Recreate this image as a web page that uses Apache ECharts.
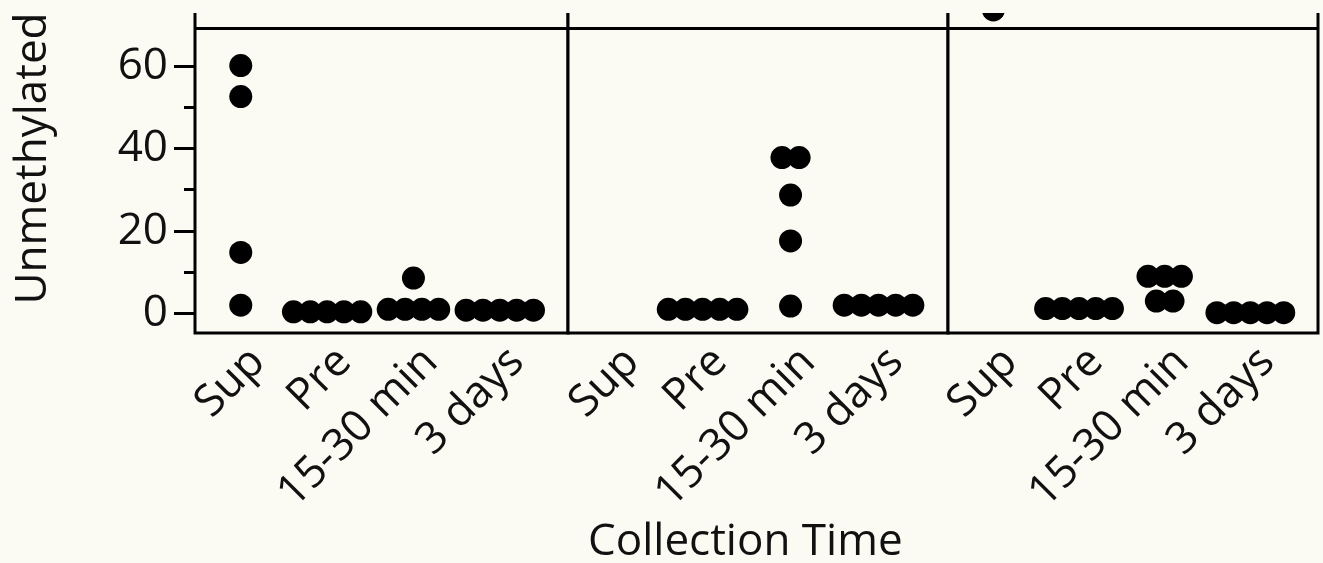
<!DOCTYPE html>
<html><head><meta charset="utf-8">
<script src="https://cdn.jsdelivr.net/npm/echarts@6/dist/echarts.min.js"></script>
<style>html,body{margin:0;padding:0;background:#fbfbf3;}#c{width:1323px;height:563px;}</style>
</head><body><div id="c"></div>
<script>
// ---- data ----
const categories = ['Sup', 'Pre', '15-30 min', '3 days'];
const panel1Sup = [60.1, 52.6, 14.8, 2.0];
const panel1Pre = [0.4, 0.4, 0.4, 0.4, 0.4];
const panel1Min = [8.6, 1.0, 1.0, 1.0, 1.0];
const panel1Days = [0.8, 0.8, 0.8, 0.8, 0.8];
const panel2Sup = [];
const panel2Pre = [1.0, 1.0, 1.0, 1.0, 1.0];
const panel2Min = [37.8, 37.8, 28.7, 17.6, 1.8];
const panel2Days = [2.0, 2.0, 2.0, 2.0, 2.0];
const panel3Sup = [73.6];
const panel3Pre = [1.2, 1.2, 1.2, 1.2, 1.2];
const panel3Min = [9.0, 9.0, 9.0, 3.0, 3.0];
const panel3Days = [0.2, 0.2, 0.2, 0.2, 0.2];
const yMajorTicks = [0, 20, 40, 60];
const yMinorTicks = [10, 30, 50];
const yTitle = 'Unmethylated';
const xTitle = 'Collection Time';

// ---- layout / style ----
const panels = [
  [panel1Sup, panel1Pre, panel1Min, panel1Days],
  [panel2Sup, panel2Pre, panel2Min, panel2Days],
  [panel3Sup, panel3Pre, panel3Min, panel3Days]
];
const Y_MIN = -4.73, Y_MAX = 76.0, PANEL_TOP = 69.2;
const X_MIN = -0.53, X_MAX = 3.79;
const DOT_STEP = 0.195;
const LABEL_SHIFT = 0.2;
const edges = [195, 568, 948, 1318];
const BG = '#fbfbf3';
const FONT = 'Open Sans';
const FS = 44;

function swarm(cols) {
  const out = [];
  cols.forEach((vals, ci) => {
    const groups = new Map();
    vals.forEach(v => groups.set(v, (groups.get(v) || 0) + 1));
    groups.forEach((n, v) => {
      for (let k = 0; k < n; k++) out.push([ci + (k - (n - 1) / 2) * DOT_STEP, v]);
    });
  });
  return out;
}

const grids = [], xAxes = [], yAxes = [], series = [];
panels.forEach((p, i) => {
  grids.push({
    left: edges[i], width: edges[i + 1] - edges[i], top: 0, bottom: 230,
    show: true, borderColor: '#000', borderWidth: 3, backgroundColor: BG, containLabel: false
  });
  xAxes.push({
    type: 'value', gridIndex: i, min: X_MIN, max: X_MAX,
    axisLine: { show: false, onZero: false }, axisTick: { show: false }, splitLine: { show: false },
    axisLabel: {
      customValues: categories.map((c, k) => k + LABEL_SHIFT), formatter: v => categories[Math.round(v - LABEL_SHIFT)],
      rotate: 45, fontSize: FS, fontFamily: FONT, color: '#111', margin: 22
    }
  });
  yAxes.push({
    type: 'value', gridIndex: i, min: Y_MIN, max: Y_MAX,
    axisLine: { show: false, onZero: false }, splitLine: { show: false },
    axisTick: i === 0 ? { show: true, customValues: yMajorTicks, length: 21, lineStyle: { color: '#000', width: 3 } } : { show: false },
    axisLabel: i === 0 ? { show: true, customValues: yMajorTicks, fontSize: FS, fontFamily: FONT, color: '#111', margin: 27 } : { show: false },
    name: i === 0 ? yTitle : '', nameLocation: 'middle', nameGap: 140,
    nameTextStyle: { fontSize: FS, fontFamily: FONT, color: '#111', padding: [0, 0, 0, 16] }
  });
  series.push({
    type: 'scatter', xAxisIndex: i, yAxisIndex: i, data: swarm(p),
    symbol: 'circle', symbolSize: 23, itemStyle: { color: '#000', opacity: 1 }, clip: false, silent: true,
    markLine: {
      silent: true, symbol: 'none', label: { show: false }, animation: false,
      lineStyle: { color: '#000', width: 3, type: 'solid' }, data: [{ yAxis: PANEL_TOP }]
    }
  });
});
// minor ticks
yAxes.push({
  type: 'value', gridIndex: 0, min: Y_MIN, max: Y_MAX, position: 'left',
  axisLine: { show: false, onZero: false }, splitLine: { show: false }, axisLabel: { show: false },
  axisTick: { show: true, customValues: yMinorTicks, length: 11, lineStyle: { color: '#000', width: 3 } }
});

const chart = echarts.init(document.getElementById('c'));
chart.setOption({
  backgroundColor: BG,
  animation: false,
  title: { text: xTitle, left: 583, top: 515, textStyle: { fontSize: FS, fontWeight: 'normal', fontFamily: FONT, color: '#111' } },
  grid: grids, xAxis: xAxes, yAxis: yAxes, series: series,
  graphic: [{ type: 'rect', z: 100, shape: { x: 0, y: 0, width: 1323, height: 13 }, style: { fill: BG } }]
});
</script></body></html>
